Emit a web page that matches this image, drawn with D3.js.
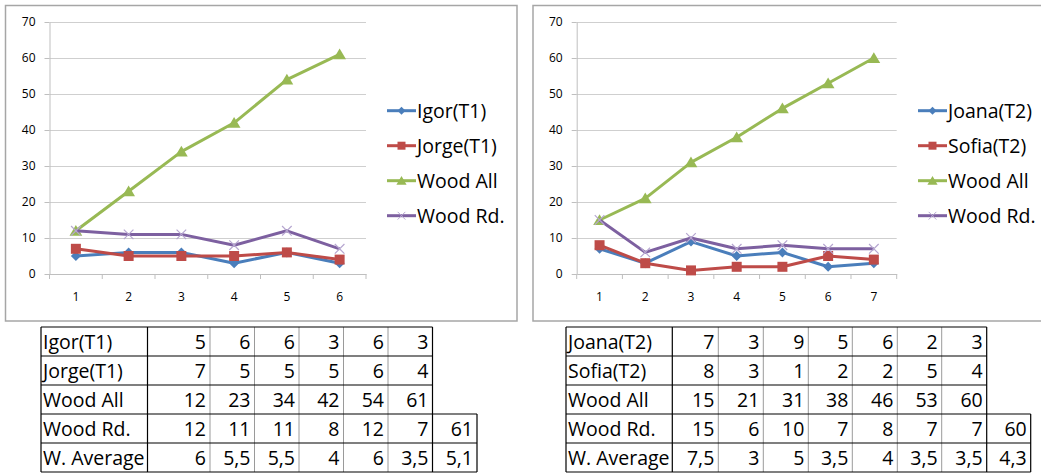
<!DOCTYPE html>
<html>
<head>
<meta charset="utf-8">
<script src="https://cdn.jsdelivr.net/npm/d3@7"></script>
<style>
  html, body { margin: 0; padding: 0; background: #fff; }
  svg { display: block; }
  text { font-family: "Open Sans", Lato, sans-serif; fill: #000; }
</style>
</head>
<body>
<svg id="chart" width="1041" height="473"></svg>
<script>
// ---- data: group T1 ----
const catsT1 = ["1", "2", "3", "4", "5", "6"];
const igorT1 = [5, 6, 6, 3, 6, 3];
const jorgeT1 = [7, 5, 5, 5, 6, 4];
const woodAllT1 = [12, 23, 34, 42, 54, 61];
const woodRdT1 = [12, 11, 11, 8, 12, 7];
const wAvgT1 = [6, 5.5, 5.5, 4, 6, 3.5];
const totalT1 = [61, 5.1];          // extra column: Wood Rd. / W. Average

// ---- data: group T2 ----
const catsT2 = ["1", "2", "3", "4", "5", "6", "7"];
const joanaT2 = [7, 3, 9, 5, 6, 2, 3];
const sofiaT2 = [8, 3, 1, 2, 2, 5, 4];
const woodAllT2 = [15, 21, 31, 38, 46, 53, 60];
const woodRdT2 = [15, 6, 10, 7, 8, 7, 7];
const wAvgT2 = [7.5, 3, 5, 3.5, 4, 3.5, 3.5];
const totalT2 = [60, 4.3];

const yTicks = [0, 10, 20, 30, 40, 50, 60, 70];

// ---- styling ----
const COLORS = { blue: "#4a7ebb", red: "#be4b48", green: "#98b954", purple: "#7d60a0" };
const BIG = "19.5px", SMALL = "12px";
const fmt = d3.formatLocale({ decimal: ",", thousands: ".", grouping: [3], currency: ["", ""] }).format("~g");

const svg = d3.select("#chart");

function markerPath(kind, s) {
  if (kind === "diamond") return `M0,${-s}L${s},0L0,${s}L${-s},0Z`;
  if (kind === "square") return `M${-s},${-s}H${s}V${s}H${-s}Z`;
  if (kind === "triangle") return `M0,${-s * 1.0}L${s * 1.1},${s * 0.85}L${-s * 1.1},${s * 0.85}Z`;
  return `M${-s},${-s}L${s},${s}M${-s},${s}L${s},${-s}`;
}

function drawChart(opt) {
  const g = svg.append("g");
  // outer chart frame
  g.append("rect")
    .attr("x", opt.frame[0]).attr("y", opt.frame[1])
    .attr("width", opt.frame[2]).attr("height", opt.frame[3])
    .attr("fill", "#fff").attr("stroke", "#a6a6a6").attr("stroke-width", 1.5);

  const x = d3.scaleBand().domain(opt.cats).range([opt.left, opt.right]);
  const y = d3.scaleLinear().domain([0, 70]).range([274, 22]);

  // horizontal gridlines
  g.append("g").selectAll("line").data(yTicks.filter(v => v > 0)).join("line")
    .attr("x1", opt.left).attr("x2", opt.right)
    .attr("y1", d => y(d) + 0.5).attr("y2", d => y(d) + 0.5)
    .attr("stroke", "#cfcfcf").attr("stroke-width", 1);

  // y axis
  const ya = g.append("g").attr("transform", `translate(${opt.left},0)`)
    .call(d3.axisLeft(y).tickValues(yTicks).tickSize(5).tickSizeOuter(0).tickPadding(9));
  ya.select(".domain").attr("stroke", "#bfbfbf");
  ya.selectAll(".tick line").attr("stroke", "#bfbfbf");
  ya.selectAll("text").style("font-size", SMALL).attr("fill", "#000");

  // x axis: labels at category centres, tick marks at category boundaries
  const xa = g.append("g").attr("transform", `translate(0,${y(0)})`)
    .call(d3.axisBottom(x).tickSize(0).tickPadding(18));
  xa.select(".domain").attr("stroke", "#bfbfbf");
  xa.selectAll("text").style("font-size", SMALL).attr("fill", "#000");
  const bounds = opt.cats.map(c => x(c)).concat([x.range()[1]]);
  g.append("g").selectAll("line").data(bounds).join("line")
    .attr("x1", d => d).attr("x2", d => d)
    .attr("y1", y(0)).attr("y2", y(0) + 5)
    .attr("stroke", "#bfbfbf");

  const line = d3.line().x((d, i) => x(opt.cats[i]) + x.bandwidth() / 2).y(d => y(d));

  opt.series.forEach(s => {
    g.append("path").datum(s.values)
      .attr("d", line).attr("fill", "none")
      .attr("stroke", s.color).attr("stroke-width", 3).attr("stroke-linejoin", "round");
    g.append("g").selectAll("path").data(s.values).join("path")
      .attr("transform", (d, i) => `translate(${x(opt.cats[i]) + x.bandwidth() / 2},${y(d)})`)
      .attr("d", markerPath(s.marker, s.mSize))
      .attr("fill", s.marker === "x" ? "none" : s.color)
      .attr("stroke", s.marker === "x" ? "#b6a6d0" : "none")
      .attr("stroke-width", 1.2);
  });

  // legend
  const lg = g.append("g").selectAll("g").data(opt.series).join("g")
    .attr("transform", (d, i) => `translate(${opt.legendX},${110.7 + i * 35})`);
  lg.append("line").attr("x1", 0).attr("x2", 29).attr("stroke", d => d.color).attr("stroke-width", 3);
  lg.append("path").attr("transform", "translate(14.5,0)")
    .attr("d", d => markerPath(d.marker, d.mSize * 0.8))
    .attr("fill", d => d.marker === "x" ? "none" : d.color)
    .attr("stroke", d => d.marker === "x" ? "#b6a6d0" : "none");
  lg.append("text").attr("x", 30).attr("dy", "0.36em")
    .style("font-size", BIG).text(d => d.name);
}

function seriesList(names, arrays) {
  const kinds = [["blue", "diamond", 5], ["red", "square", 5], ["green", "triangle", 5.8], ["purple", "x", 4.8]];
  return arrays.map((v, i) => ({ name: names[i], values: v, color: COLORS[kinds[i][0]], marker: kinds[i][1], mSize: kinds[i][2] }));
}

drawChart({
  frame: [5.5, 5.5, 511.5, 315.5],
  cats: catsT1, left: 49.5, right: 366, legendX: 387,
  series: seriesList(["Igor(T1)", "Jorge(T1)", "Wood All", "Wood Rd."], [igorT1, jorgeT1, woodAllT1, woodRdT1])
});
drawChart({
  frame: [533, 5.5, 520, 315.5],
  cats: catsT2, left: 576.7, right: 896.7, legendX: 918,
  series: seriesList(["Joana(T2)", "Sofia(T2)", "Wood All", "Wood Rd."], [joanaT2, sofiaT2, woodAllT2, woodRdT2])
});

// ---- data tables below the charts ----
function drawTable(opt) {
  const g = svg.append("g");
  const top = 327, rowH = 29;
  const rows = opt.rows;
  const nData = rows[0].values.length;
  const cols = opt.cols;                    // column boundaries, label column first
  const xEnd = cols[nData + 1];             // right edge of the data columns
  const xExtra = cols[nData + 2];           // right edge of the extra column

  // cell text
  rows.forEach((r, ri) => {
    const cy = top + ri * rowH + rowH / 2;
    g.append("text").attr("x", cols[0] + 2).attr("y", cy).attr("dy", "0.36em")
      .style("font-size", BIG).text(r.label);
    const vals = r.values.concat(r.extra !== undefined ? [r.extra] : []);
    vals.forEach((v, ci) => {
      g.append("text").attr("x", cols[ci + 2] - 4).attr("y", cy).attr("dy", "0.36em")
        .attr("text-anchor", "end").style("font-size", BIG).text(fmt(v));
    });
  });

  const bottom = top + rows.length * rowH;
  const extraTop = top + 3 * rowH;
  // light inner vertical gridlines between data columns
  for (let c = 2; c <= nData; c++) {
    g.append("line").attr("x1", cols[c]).attr("x2", cols[c]).attr("y1", top).attr("y2", bottom)
      .attr("stroke", "#9a9a9a").attr("stroke-width", 1);
  }
  // horizontal rules
  for (let r = 0; r <= rows.length; r++) {
    const yy = top + r * rowH;
    const right = r >= 3 ? xExtra : xEnd;
    g.append("line").attr("x1", cols[0]).attr("x2", right).attr("y1", yy).attr("y2", yy)
      .attr("stroke", "#000").attr("stroke-width", 1.2);
  }
  // dark vertical borders
  [[cols[0], top, bottom], [cols[1], top, bottom], [xEnd, top, bottom], [xExtra, extraTop, bottom]]
    .forEach(([xx, y1, y2]) => {
      g.append("line").attr("x1", xx).attr("x2", xx).attr("y1", y1).attr("y2", y2)
        .attr("stroke", "#000").attr("stroke-width", 1.2);
    });
}

drawTable({
  cols: [41, 147.5, 210, 254.5, 299, 343.5, 388, 432.5, 477],
  rows: [
    { label: "Igor(T1)", values: igorT1 },
    { label: "Jorge(T1)", values: jorgeT1 },
    { label: "Wood All", values: woodAllT1 },
    { label: "Wood Rd.", values: woodRdT1, extra: totalT1[0] },
    { label: "W. Average", values: wAvgT1, extra: totalT1[1] }
  ]
});
drawTable({
  cols: [566, 672.3, 718.3, 763.3, 808.3, 852.3, 897.3, 941.7, 986.7, 1030.7],
  rows: [
    { label: "Joana(T2)", values: joanaT2 },
    { label: "Sofia(T2)", values: sofiaT2 },
    { label: "Wood All", values: woodAllT2 },
    { label: "Wood Rd.", values: woodRdT2, extra: totalT2[0] },
    { label: "W. Average", values: wAvgT2, extra: totalT2[1] }
  ]
});
</script>
</body>
</html>
